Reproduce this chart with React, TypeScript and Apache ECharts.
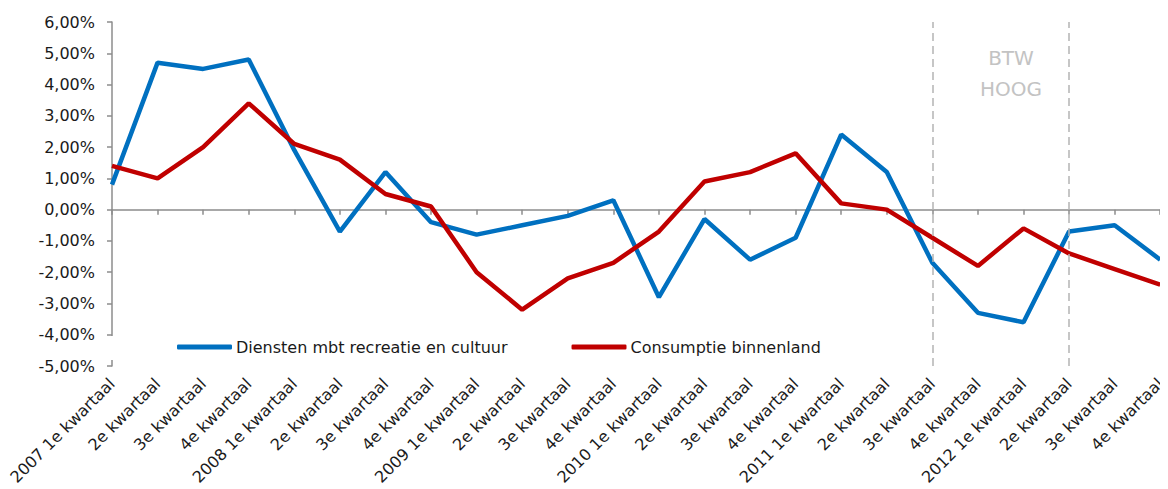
import React, { useEffect, useRef } from "react";
import * as echarts from "echarts";

const categories = [
  "2007 1e kwartaal", "2e kwartaal", "3e kwartaal", "4e kwartaal",
  "2008 1e kwartaal", "2e kwartaal", "3e kwartaal", "4e kwartaal",
  "2009 1e kwartaal", "2e kwartaal", "3e kwartaal", "4e kwartaal",
  "2010 1e kwartaal", "2e kwartaal", "3e kwartaal", "4e kwartaal",
  "2011 1e kwartaal", "2e kwartaal", "3e kwartaal", "4e kwartaal",
  "2012 1e kwartaal", "2e kwartaal", "3e kwartaal", "4e kwartaal",
];

const diensten = [
  0.8, 4.7, 4.5, 4.8, 1.9, -0.7, 1.2, -0.4, -0.8, -0.5, -0.2, 0.3,
  -2.8, -0.3, -1.6, -0.9, 2.4, 1.2, -1.7, -3.3, -3.6, -0.7, -0.5, -1.6,
];

const consumptie = [
  1.4, 1.0, 2.0, 3.4, 2.1, 1.6, 0.5, 0.1, -2.0, -3.2, -2.2, -1.7,
  -0.7, 0.9, 1.2, 1.8, 0.2, 0.0, -0.9, -1.8, -0.6, -1.4, -1.9, -2.4,
];

const seriesNames = ["Diensten mbt recreatie en cultuur", "Consumptie binnenland"];
const btwMarkers = [18, 21];
const btwLines = ["BTW", "HOOG"];

const FONT = "DejaVu Sans, Verdana, sans-serif";
const AXIS_GREY = "#8c8c8c";

export default function App() {
  const ref = useRef<HTMLDivElement>(null);

  useEffect(() => {
    if (!ref.current) return;
    const chart = echarts.init(ref.current, undefined, { renderer: "svg" });
    chart.setOption({
      animation: false,
      textStyle: { fontFamily: FONT },
      grid: { left: 112, right: 3, top: 22, bottom: 123, containLabel: false },
      legend: {
        data: seriesNames,
        left: 172,
        top: 334,
        itemWidth: 55,
        itemHeight: 5,
        itemGap: 64,
        icon: "roundRect",
        textStyle: { fontFamily: FONT, fontSize: 16, color: "#1a1a1a", padding: [0, 0, 0, -1] },
      },
      xAxis: [
        {
          type: "category",
          data: categories,
          boundaryGap: false,
          axisLine: { show: false, onZero: false },
          axisTick: { show: false },
          axisLabel: {
            rotate: 45,
            interval: 0,
            margin: 15,
            fontFamily: FONT,
            fontSize: 16,
            color: "#1a1a1a",
          },
        },
        {
          type: "category",
          data: categories,
          boundaryGap: false,
          position: "bottom",
          axisLine: { show: true, onZero: true, lineStyle: { color: AXIS_GREY, width: 1.5 } },
          axisTick: { show: true, inside: false, length: 5, interval: 0, alignWithLabel: true, lineStyle: { color: AXIS_GREY, width: 1.5 } },
          axisLabel: { show: false },
          splitLine: { show: false },
        },
      ],
      yAxis: {
        type: "value",
        min: -5,
        max: 6,
        interval: 1,
        axisLine: { show: true, lineStyle: { color: AXIS_GREY, width: 1.5 } },
        axisTick: { show: true, length: 5, lineStyle: { color: AXIS_GREY, width: 1.5 } },
        splitLine: { show: false },
        axisLabel: {
          margin: 17,
          fontFamily: FONT,
          fontSize: 16,
          color: "#1a1a1a",
          formatter: (v: number) => v.toFixed(2).replace(".", ",") + "%",
        },
      },
      graphic: [
        {
          type: "text",
          x: 1011,
          y: 58,
          style: {
            text: btwLines[0],
            fill: "#c3c3c3",
            font: `20px ${FONT}`,
            textAlign: "center",
            textVerticalAlign: "middle",
          },
        },
        {
          type: "text",
          x: 1011,
          y: 89,
          style: {
            text: btwLines[1],
            fill: "#c3c3c3",
            font: `20px ${FONT}`,
            textAlign: "center",
            textVerticalAlign: "middle",
          },
        },
        {
          type: "rect",
          shape: { x: 103, y: 336, width: 14, height: 24 },
          style: { fill: "#ffffff" },
          z: 100,
        },
      ],
      series: [
        {
          name: seriesNames[0],
          type: "line",
          data: diensten,
          symbol: "none",
          lineStyle: { color: "#0070C0", width: 4.5 },
          itemStyle: { color: "#0070C0" },
          z: 3,
          markLine: {
            silent: true,
            symbol: "none",
            label: { show: false },
            lineStyle: { color: "#b4b4b4", type: [8, 5], width: 1.5 },
            data: btwMarkers.map((i) => ({ xAxis: i })),
          },
        },
        {
          name: seriesNames[1],
          type: "line",
          data: consumptie,
          symbol: "none",
          lineStyle: { color: "#C00000", width: 4.5 },
          itemStyle: { color: "#C00000" },
          z: 4,
        },
      ],
    });
    return () => chart.dispose();
  }, []);

  return <div ref={ref} style={{ width: 1168, height: 489, marginLeft: -8, marginTop: -8 }} />;
}
